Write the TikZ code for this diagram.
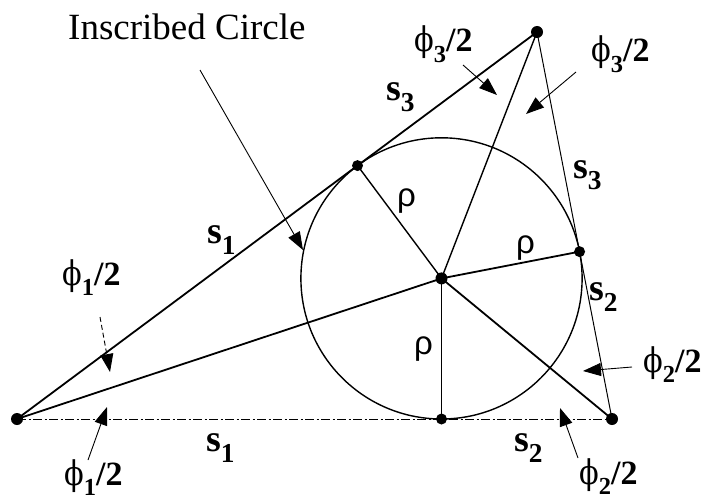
\documentclass[tikz,border=0pt]{standalone}
\usepackage{fontspec}
\setmainfont{Liberation Serif}
\newfontfamily\rhofont{Liberation Sans}
\newfontfamily\phifont{DejaVu Serif}
\usetikzlibrary{arrows.meta,calc}
\newcommand\mysub[1]{\raisebox{-0.3em}{\scalebox{0.72}{#1}}}
\newcommand\lbls[1]{\textbf{s\mysub{#1}}}
\newcommand\lblphi[1]{{\phifont\scalebox{0.85}[1]{ϕ}}\textbf{\mysub{#1}/2}}
\tikzset{
  thickline/.style={line width=1.8pt},
  medline/.style={line width=1.4pt},
  thinline/.style={line width=1pt},
  arr/.style={line width=0.9pt,-{Triangle[length=18pt,width=13pt]}},
  slabel/.style={anchor=base west,inner sep=0pt,font=\fontsize{38}{40}\selectfont},
  plabel/.style={anchor=base west,inner sep=0pt,font=\fontsize{34}{36}\selectfont},
  rlabel/.style={anchor=base west,inner sep=0pt,font=\rhofont\fontsize{33}{35}\selectfont},
  tlabel/.style={anchor=base west,inner sep=0pt,font=\fontsize{37}{39}\selectfont},
}
\begin{document}
\begin{tikzpicture}[x=1pt,y=-1pt]
\useasboundingbox (0,0) rectangle (703,500);
% vertices and incircle
\coordinate (A) at (17,419);
\coordinate (B) at (612,419);
\coordinate (C) at (537,32);
\coordinate (I) at (441.5,278.4);
\coordinate (TB) at ($(A)!(I)!(B)$);
\coordinate (TL) at ($(A)!(I)!(C)$);
\coordinate (TR) at ($(B)!(I)!(C)$);
% sides
\draw[thinline,dash pattern=on 9pt off 2.5pt on 2pt off 2.5pt] (A) -- (B);
\draw[thickline] (A) -- (C);
\draw[thinline] (C) -- (B);
% bisectors
\draw[thickline] (A) -- (I);
\draw[thickline] (I) -- (B);
\draw[medline] (C) -- (I);
% radii
\draw[medline] (I) -- (TL);
\draw[thickline] (I) -- (TR);
\draw[thinline] (I) -- (TB);
% circle
\draw[medline] (I) circle (140.6);
% dots
\foreach \p in {A,B,C,I} \fill (\p) circle (6);
\foreach \p in {TB,TL,TR} \fill (\p) circle (5.5);
% labels
\node[tlabel] (ic) at (68,40) {Inscribed Circle};
\node[slabel] (s3a) at (386,100) {\lbls{3}};
\node[slabel] (s1a) at (207,243) {\lbls{1}};
\node[slabel] (s3b) at (573,178) {\lbls{3}};
\node[slabel] (s2a) at (589,300) {\lbls{2}};
\node[slabel] (s1b) at (206,451) {\lbls{1}};
\node[slabel] (s2b) at (514,451) {\lbls{2}};
\node[rlabel] (r1) at (397,206) {ρ};
\node[rlabel] (r2) at (516,253) {ρ};
\node[rlabel] (r3) at (414,354) {ρ};
\node[plabel] (p1a) at (62,285) {\lblphi{1}};
\node[plabel] (p1b) at (64,485) {\lblphi{1}};
\node[plabel] (p3a) at (414,52) {\lblphi{3}};
\node[plabel] (p3b) at (591,62) {\lblphi{3}};
\node[plabel] (p2a) at (643,372) {\lblphi{2}};
\node[plabel] (p2b) at (579,484) {\lblphi{2}};
% arrows
\coordinate (icS) at (200,70);   \coordinate (icE) at (303,250);
\coordinate (p1aS) at (100,317); \coordinate (p1aE) at (110,372);
\coordinate (p1bS) at (88,460);  \coordinate (p1bE) at (107,407);
\coordinate (p3aS) at (463,65);  \coordinate (p3aE) at (497,95);
\coordinate (p3bS) at (576,72);  \coordinate (p3bE) at (526,114);
\coordinate (p2aS) at (632,367); \coordinate (p2aE) at (583,371);
\coordinate (p2bS) at (578,458); \coordinate (p2bE) at (560,408);
\draw[arr] (icS) -- (icE);
\draw[arr,dash pattern=on 5pt off 3pt] (p1aS) -- (p1aE);
\draw[arr] (p1bS) -- (p1bE);
\draw[arr] (p3aS) -- (p3aE);
\draw[arr] (p3bS) -- (p3bE);
\draw[arr] (p2aS) -- (p2aE);
\draw[arr] (p2bS) -- (p2bE);
\end{tikzpicture}
\end{document}
